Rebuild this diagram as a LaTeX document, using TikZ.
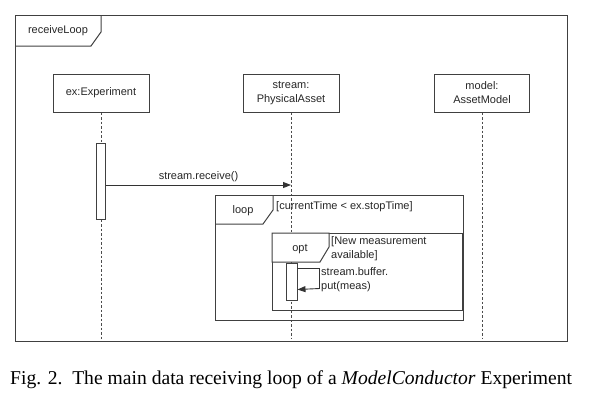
\documentclass[tikz,border=0pt]{standalone}
\usepackage{fontspec}
\setmainfont{Liberation Serif}
\setsansfont{Liberation Sans}
\usetikzlibrary{arrows.meta}

\tikzset{
  frame/.style={draw=black!75, line width=1pt},
  head/.style={draw=black!75, line width=1pt, minimum width=96pt, minimum height=38pt,
    align=center, inner sep=1pt, text=black!85, font=\sffamily\fontsize{11}{14}\selectfont},
  lifeline/.style={draw=black!70, line width=1pt, dash pattern=on 2.5pt off 2pt},
  actbar/.style={draw=black!75, fill=white, line width=1pt, minimum width=9pt, inner sep=0pt},
  msg/.style={draw=black!80, line width=0.9pt, -{Triangle[length=8pt,width=6pt]}},
  lbl/.style={font=\sffamily\fontsize{11}{14}\selectfont, text=black!85, inner sep=0pt, align=left},
}

\begin{document}
\begin{tikzpicture}[x=1pt,y=-1pt]
  \useasboundingbox (0,0) rectangle (591,400);

  % lifeline heads
  \node[head] (exp) at (101,93) {ex:Experiment};
  \node[head] (stream) at (291,93) {stream:\\PhysicalAsset};
  \node[head, minimum width=95pt] (model) at (482,93) {model:\\AssetModel};
  \coordinate (bottom) at (0,339);

  % activation bars
  \node[actbar, minimum height=76pt] (expact) at (101,181) {};
  \node[actbar, minimum height=37pt, minimum width=11pt] (optact) at (291.5,281.5) {};

  % lifelines
  \draw[lifeline] (exp.south) -- (expact.north);
  \draw[lifeline] (expact.south) -- (exp.south |- bottom);
  \draw[lifeline] (stream.south) -- (stream.south |- bottom);
  \draw[lifeline] (model.south) -- (model.south |- bottom);

  % outer frame
  \draw[frame] (15,15) rectangle (567,341);
  \draw[frame] (15,46) -- (91,46) -- (101,32) -- (101,15);
  \node[lbl] (title) at (58,31) {receiveLoop};

  % loop fragment
  \draw[frame] (215,195) rectangle (463,320);
  \draw[frame] (215,224) -- (263,224) -- (273,210) -- (273,195);
  \node[lbl] (looplbl) at (243,211) {loop};
  \node[lbl, anchor=west] (loopguard) at (276,207) {[currentTime < ex.stopTime]};

  % opt fragment
  \draw[frame] (272,233) rectangle (462,310);
  \draw[frame, fill=white] (272,233) -- (272,262) -- (320,262) -- (329,247) -- (329,233) -- cycle;
  \node[lbl] (optlbl) at (300,249) {opt};
  \node[lbl, anchor=west] (optguard) at (331,249) {[New measurement\\available]};

  % redraw bar over the frames
  \node[actbar, minimum height=37pt, minimum width=11pt] at (optact) {};

  % messages
  \coordinate (rcvend) at (291,185);
  \draw[msg] (expact.east |- rcvend) -- (rcvend)
    node[lbl, midway, above=3pt] (rcvlbl) {stream.receive()};
  \draw[msg] ([yshift=-6pt]optact.north east) -- ++(22,0) -- ++(0,20)
    -- ([yshift=11pt]optact.south east);
  \node[lbl, anchor=west] (putlbl) at (321,280) {stream.buffer.\\put(meas)};

  % caption
  \node[anchor=base west, inner sep=0pt, font=\fontsize{19.6}{22}\selectfont] (caption) at (10,384)
    {Fig. 2.\enskip The main data receiving loop of a \emph{ModelConductor} Experiment};
\end{tikzpicture}
\end{document}
